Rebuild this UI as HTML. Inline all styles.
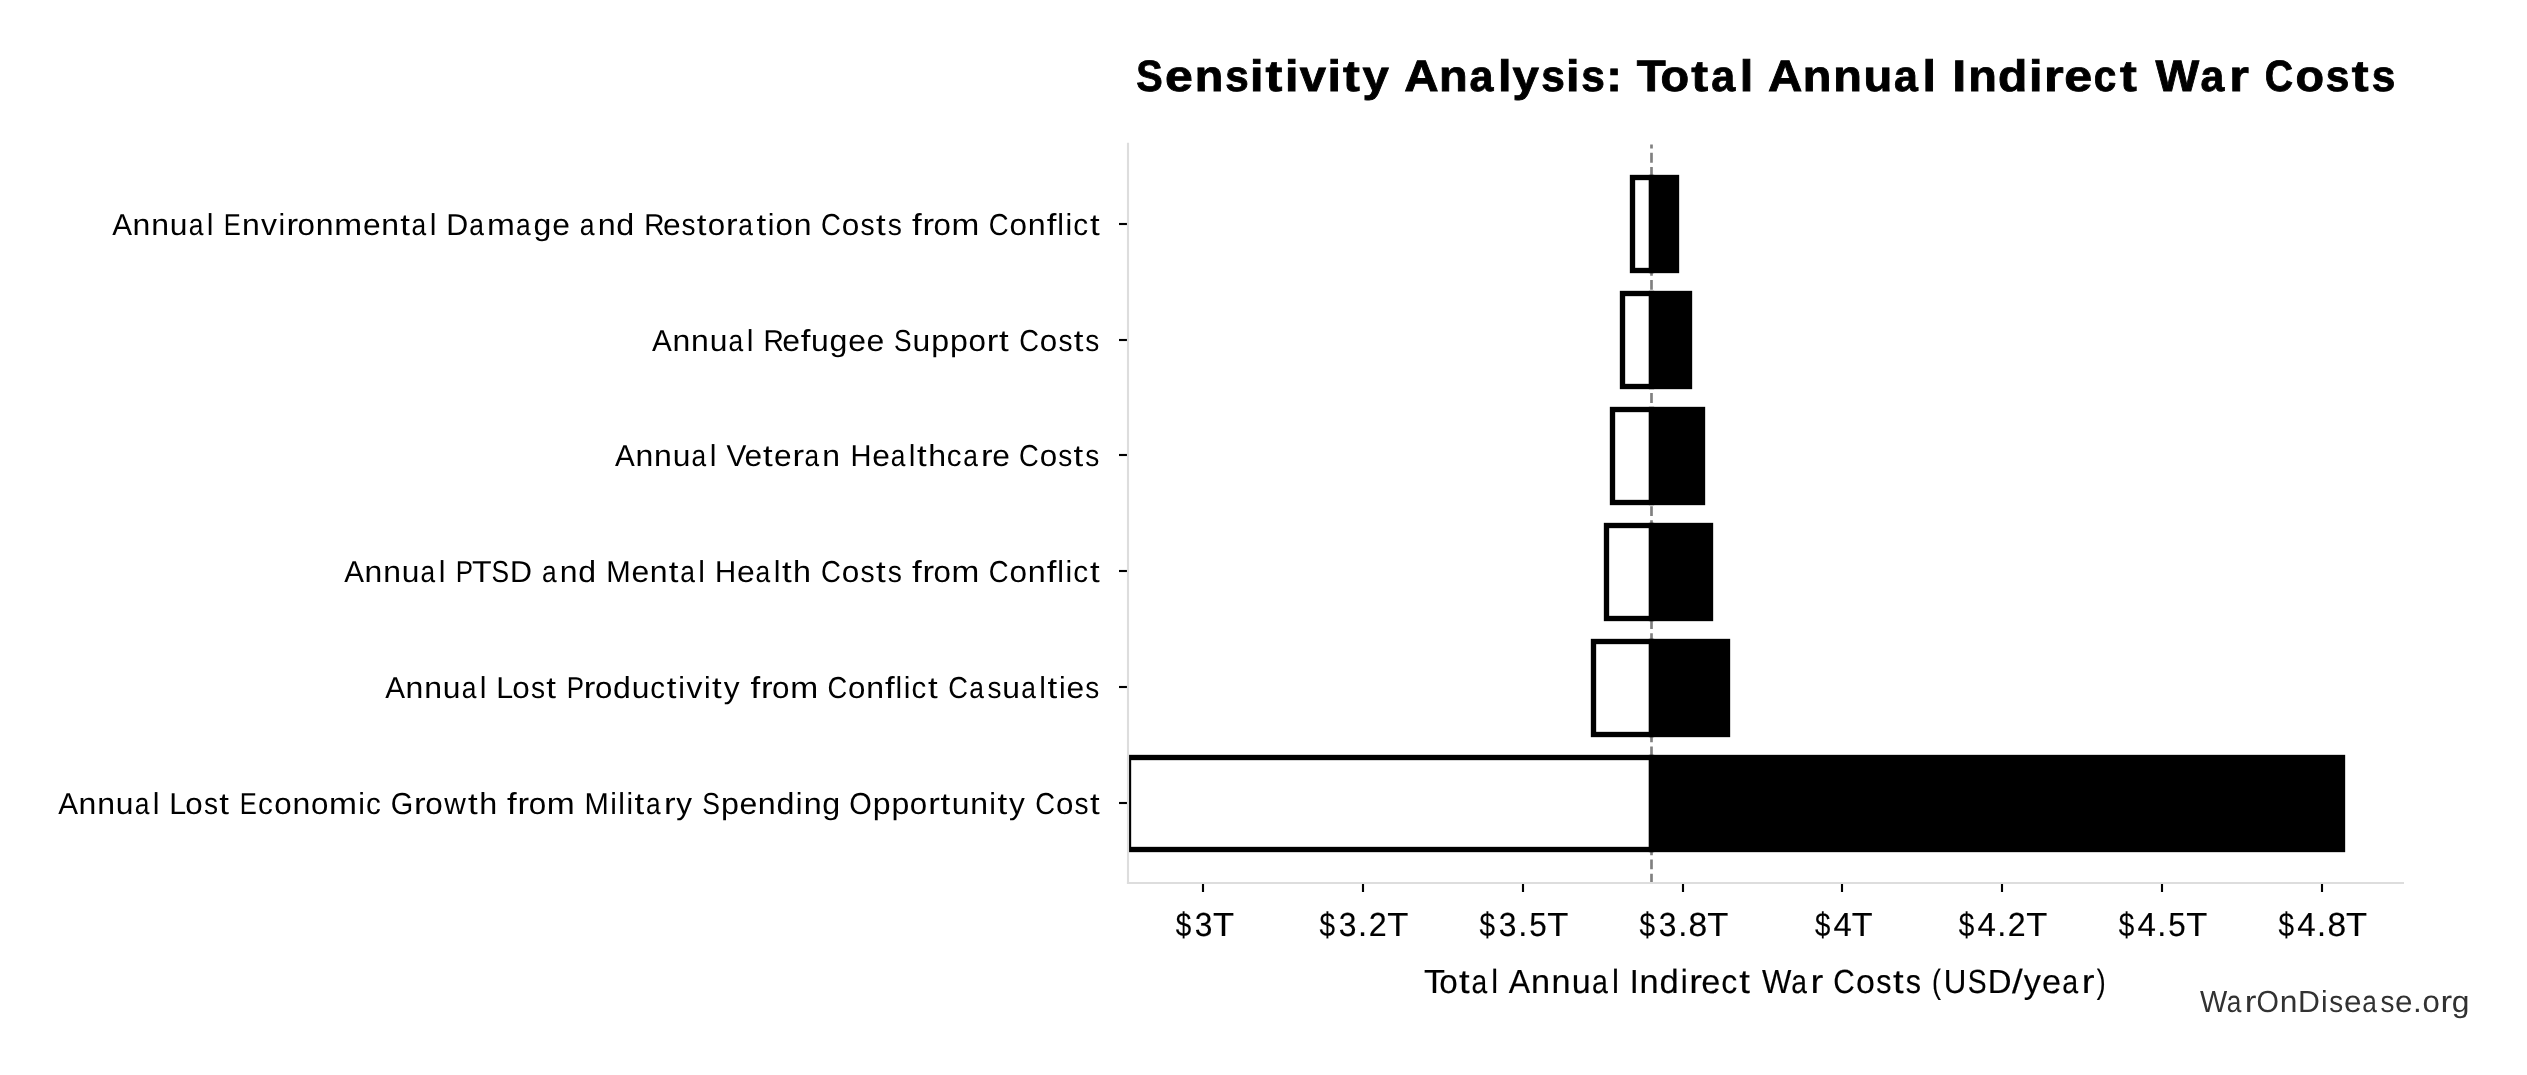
<!DOCTYPE html>
<html>
<head>
<meta charset="utf-8">
<style>
html,body{margin:0;padding:0;background:#fff;width:2527px;height:1075px;overflow:hidden;}
body>svg{display:block;filter:grayscale(1);}
text{font-family:"Liberation Sans",sans-serif;text-rendering:geometricPrecision;}
</style>
</head>
<body>
<svg width="2527" height="1075" viewBox="0 0 2527 1075">
<rect x="0" y="0" width="2527" height="1075" fill="#fff"/>
<!-- title -->
<g font-size="43.9" font-weight="bold" fill="#000" stroke="#000" stroke-width="0.85">
<text y="90.80"><tspan x="1136.24" textLength="26.440" lengthAdjust="spacingAndGlyphs">S</tspan><tspan x="1165.02" textLength="27.860" lengthAdjust="spacingAndGlyphs">e</tspan><tspan x="1194.67" textLength="28.551" lengthAdjust="spacingAndGlyphs">n</tspan><tspan x="1225.22" textLength="23.512" lengthAdjust="spacingAndGlyphs">s</tspan><tspan x="1250.08" textLength="13.449" lengthAdjust="spacingAndGlyphs">i</tspan><tspan x="1265.59" textLength="16.812" lengthAdjust="spacingAndGlyphs">t</tspan><tspan x="1285.10" textLength="13.449" lengthAdjust="spacingAndGlyphs">i</tspan><tspan x="1299.89" textLength="26.213" lengthAdjust="spacingAndGlyphs">v</tspan><tspan x="1327.53" textLength="13.449" lengthAdjust="spacingAndGlyphs">i</tspan><tspan x="1343.04" textLength="16.812" lengthAdjust="spacingAndGlyphs">t</tspan><tspan x="1362.45" textLength="26.318" lengthAdjust="spacingAndGlyphs">y</tspan> <tspan x="1404.24" textLength="34.365" lengthAdjust="spacingAndGlyphs">A</tspan><tspan x="1438.96" textLength="28.667" lengthAdjust="spacingAndGlyphs">n</tspan><tspan x="1469.45" textLength="23.904" lengthAdjust="spacingAndGlyphs">a</tspan><tspan x="1497.99" textLength="13.509" lengthAdjust="spacingAndGlyphs">l</tspan><tspan x="1512.58" textLength="26.425" lengthAdjust="spacingAndGlyphs">y</tspan><tspan x="1541.13" textLength="23.608" lengthAdjust="spacingAndGlyphs">s</tspan><tspan x="1566.08" textLength="13.509" lengthAdjust="spacingAndGlyphs">i</tspan><tspan x="1581.30" textLength="23.608" lengthAdjust="spacingAndGlyphs">s</tspan><tspan x="1606.33" textLength="15.624" lengthAdjust="spacingAndGlyphs">:</tspan> <tspan x="1636.75" textLength="28.953" lengthAdjust="spacingAndGlyphs">T</tspan><tspan x="1660.59" textLength="28.616" lengthAdjust="spacingAndGlyphs">o</tspan><tspan x="1691.24" textLength="16.812" lengthAdjust="spacingAndGlyphs">t</tspan><tspan x="1711.17" textLength="23.951" lengthAdjust="spacingAndGlyphs">a</tspan><tspan x="1739.76" textLength="13.538" lengthAdjust="spacingAndGlyphs">l</tspan> <tspan x="1768.14" textLength="34.304" lengthAdjust="spacingAndGlyphs">A</tspan><tspan x="1802.80" textLength="28.615" lengthAdjust="spacingAndGlyphs">n</tspan><tspan x="1833.24" textLength="28.615" lengthAdjust="spacingAndGlyphs">n</tspan><tspan x="1863.52" textLength="28.764" lengthAdjust="spacingAndGlyphs">u</tspan><tspan x="1894.11" textLength="23.860" lengthAdjust="spacingAndGlyphs">a</tspan><tspan x="1922.61" textLength="13.482" lengthAdjust="spacingAndGlyphs">l</tspan> <tspan x="1952.23" textLength="13.990" lengthAdjust="spacingAndGlyphs">I</tspan><tspan x="1968.24" textLength="28.620" lengthAdjust="spacingAndGlyphs">n</tspan><tspan x="1998.05" textLength="29.307" lengthAdjust="spacingAndGlyphs">d</tspan><tspan x="2028.94" textLength="13.485" lengthAdjust="spacingAndGlyphs">i</tspan><tspan x="2044.14" textLength="19.647" lengthAdjust="spacingAndGlyphs">r</tspan><tspan x="2064.31" textLength="27.928" lengthAdjust="spacingAndGlyphs">e</tspan><tspan x="2093.70" textLength="22.563" lengthAdjust="spacingAndGlyphs">c</tspan><tspan x="2119.94" textLength="16.812" lengthAdjust="spacingAndGlyphs">t</tspan> <tspan x="2155.51" textLength="43.678" lengthAdjust="spacingAndGlyphs">W</tspan><tspan x="2200.40" textLength="23.747" lengthAdjust="spacingAndGlyphs">a</tspan><tspan x="2229.25" textLength="19.647" lengthAdjust="spacingAndGlyphs">r</tspan> <tspan x="2264.76" textLength="28.334" lengthAdjust="spacingAndGlyphs">C</tspan><tspan x="2295.62" textLength="28.544" lengthAdjust="spacingAndGlyphs">o</tspan><tspan x="2325.79" textLength="23.595" lengthAdjust="spacingAndGlyphs">s</tspan><tspan x="2351.65" textLength="16.812" lengthAdjust="spacingAndGlyphs">t</tspan><tspan x="2371.73" textLength="23.595" lengthAdjust="spacingAndGlyphs">s</tspan></text>
</g>
<!-- dashed reference line -->
<line x1="1651.5" y1="883.5" x2="1651.5" y2="144.5" stroke="#808080" stroke-width="2.667" stroke-dasharray="9.867 4.267"/>
<!-- bars -->
<g stroke="#000" stroke-width="5.333">
<rect x="1632.50" y="177.50" width="19.00" height="93.00" fill="#fff"/>
<rect x="1651.50" y="177.50" width="25.00" height="93.00" fill="#000"/>
<rect x="1622.50" y="293.50" width="29.00" height="93.00" fill="#fff"/>
<rect x="1651.50" y="293.50" width="38.00" height="93.00" fill="#000"/>
<rect x="1612.50" y="409.50" width="39.00" height="93.00" fill="#fff"/>
<rect x="1651.50" y="409.50" width="51.00" height="93.00" fill="#000"/>
<rect x="1606.50" y="525.50" width="45.00" height="93.00" fill="#fff"/>
<rect x="1651.50" y="525.50" width="59.00" height="93.00" fill="#000"/>
<rect x="1593.50" y="641.50" width="58.00" height="93.00" fill="#fff"/>
<rect x="1651.50" y="641.50" width="76.00" height="93.00" fill="#000"/>
</g>
<svg x="1128" y="0" width="1399" height="1075" overflow="hidden">
<g stroke="#000" stroke-width="5.333">
<rect x="0.50" y="757.50" width="523.00" height="92.00" fill="#fff"/><rect x="523.50" y="757.50" width="691.00" height="92.00" fill="#000"/>
</g>
</svg>
<!-- y ticks -->
<g stroke="#000" stroke-width="2.133">
<line x1="1119" y1="224.00" x2="1128" y2="224.00"/>
<line x1="1119" y1="340.00" x2="1128" y2="340.00"/>
<line x1="1119" y1="455.00" x2="1128" y2="455.00"/>
<line x1="1119" y1="571.00" x2="1128" y2="571.00"/>
<line x1="1119" y1="687.00" x2="1128" y2="687.00"/>
<line x1="1119" y1="803.00" x2="1128" y2="803.00"/>
</g>
<!-- x ticks -->
<g stroke="#000" stroke-width="2.133">
<line x1="1203.00" y1="883" x2="1203.00" y2="892"/>
<line x1="1363.00" y1="883" x2="1363.00" y2="892"/>
<line x1="1523.00" y1="883" x2="1523.00" y2="892"/>
<line x1="1683.00" y1="883" x2="1683.00" y2="892"/>
<line x1="1842.00" y1="883" x2="1842.00" y2="892"/>
<line x1="2002.00" y1="883" x2="2002.00" y2="892"/>
<line x1="2162.00" y1="883" x2="2162.00" y2="892"/>
<line x1="2322.00" y1="883" x2="2322.00" y2="892"/>
</g>
<!-- spines -->
<line x1="1128" y1="142.63" x2="1128" y2="884.07" stroke="#dddddd" stroke-width="2.133"/>
<line x1="1126.93" y1="883" x2="2404" y2="883" stroke="#dddddd" stroke-width="2.133"/>
<!-- y labels -->
<g font-size="30.3" fill="#000">
<text y="234.69"><tspan x="112.13" textLength="19.800" lengthAdjust="spacingAndGlyphs">A</tspan><tspan x="132.57" textLength="17.808" lengthAdjust="spacingAndGlyphs">n</tspan><tspan x="151.23" textLength="17.808" lengthAdjust="spacingAndGlyphs">n</tspan><tspan x="169.85" textLength="17.704" lengthAdjust="spacingAndGlyphs">u</tspan><tspan x="188.71" textLength="14.681" lengthAdjust="spacingAndGlyphs">a</tspan><tspan x="206.84" textLength="6.679" lengthAdjust="spacingAndGlyphs">l</tspan> <tspan x="223.80" textLength="17.016" lengthAdjust="spacingAndGlyphs">E</tspan><tspan x="242.09" textLength="17.806" lengthAdjust="spacingAndGlyphs">n</tspan><tspan x="260.99" textLength="15.991" lengthAdjust="spacingAndGlyphs">v</tspan><tspan x="278.42" textLength="6.678" lengthAdjust="spacingAndGlyphs">i</tspan><tspan x="286.49" textLength="11.604" lengthAdjust="spacingAndGlyphs">r</tspan><tspan x="297.64" textLength="17.396" lengthAdjust="spacingAndGlyphs">o</tspan><tspan x="315.82" textLength="17.806" lengthAdjust="spacingAndGlyphs">n</tspan><tspan x="334.38" textLength="27.872" lengthAdjust="spacingAndGlyphs">m</tspan><tspan x="362.96" textLength="17.636" lengthAdjust="spacingAndGlyphs">e</tspan><tspan x="381.25" textLength="17.806" lengthAdjust="spacingAndGlyphs">n</tspan><tspan x="400.23" textLength="9.681" lengthAdjust="spacingAndGlyphs">t</tspan><tspan x="411.61" textLength="14.679" lengthAdjust="spacingAndGlyphs">a</tspan><tspan x="429.74" textLength="6.678" lengthAdjust="spacingAndGlyphs">l</tspan> <tspan x="446.29" textLength="21.975" lengthAdjust="spacingAndGlyphs">D</tspan><tspan x="469.21" textLength="14.674" lengthAdjust="spacingAndGlyphs">a</tspan><tspan x="486.98" textLength="27.861" lengthAdjust="spacingAndGlyphs">m</tspan><tspan x="515.90" textLength="14.674" lengthAdjust="spacingAndGlyphs">a</tspan><tspan x="533.56" textLength="17.795" lengthAdjust="spacingAndGlyphs">g</tspan><tspan x="552.25" textLength="17.630" lengthAdjust="spacingAndGlyphs">e</tspan> <tspan x="579.67" textLength="14.803" lengthAdjust="spacingAndGlyphs">a</tspan><tspan x="597.69" textLength="17.956" lengthAdjust="spacingAndGlyphs">n</tspan><tspan x="616.30" textLength="17.952" lengthAdjust="spacingAndGlyphs">d</tspan> <tspan x="644.19" textLength="20.247" lengthAdjust="spacingAndGlyphs">R</tspan><tspan x="662.94" textLength="17.604" lengthAdjust="spacingAndGlyphs">e</tspan><tspan x="681.59" textLength="14.002" lengthAdjust="spacingAndGlyphs">s</tspan><tspan x="696.83" textLength="9.681" lengthAdjust="spacingAndGlyphs">t</tspan><tspan x="707.86" textLength="17.363" lengthAdjust="spacingAndGlyphs">o</tspan><tspan x="726.14" textLength="11.604" lengthAdjust="spacingAndGlyphs">r</tspan><tspan x="738.25" textLength="14.652" lengthAdjust="spacingAndGlyphs">a</tspan><tspan x="756.40" textLength="9.681" lengthAdjust="spacingAndGlyphs">t</tspan><tspan x="767.86" textLength="6.666" lengthAdjust="spacingAndGlyphs">i</tspan><tspan x="775.60" textLength="17.363" lengthAdjust="spacingAndGlyphs">o</tspan><tspan x="793.74" textLength="17.773" lengthAdjust="spacingAndGlyphs">n</tspan> <tspan x="821.12" textLength="19.885" lengthAdjust="spacingAndGlyphs">C</tspan><tspan x="841.87" textLength="17.528" lengthAdjust="spacingAndGlyphs">o</tspan><tspan x="860.58" textLength="14.135" lengthAdjust="spacingAndGlyphs">s</tspan><tspan x="876.00" textLength="9.681" lengthAdjust="spacingAndGlyphs">t</tspan><tspan x="887.65" textLength="14.135" lengthAdjust="spacingAndGlyphs">s</tspan> <tspan x="912.08" textLength="9.681" lengthAdjust="spacingAndGlyphs">f</tspan><tspan x="922.41" textLength="11.604" lengthAdjust="spacingAndGlyphs">r</tspan><tspan x="933.55" textLength="17.351" lengthAdjust="spacingAndGlyphs">o</tspan><tspan x="951.59" textLength="27.799" lengthAdjust="spacingAndGlyphs">m</tspan> <tspan x="988.73" textLength="19.851" lengthAdjust="spacingAndGlyphs">C</tspan><tspan x="1009.44" textLength="17.498" lengthAdjust="spacingAndGlyphs">o</tspan><tspan x="1027.72" textLength="17.911" lengthAdjust="spacingAndGlyphs">n</tspan><tspan x="1046.67" textLength="9.681" lengthAdjust="spacingAndGlyphs">f</tspan><tspan x="1057.17" textLength="6.718" lengthAdjust="spacingAndGlyphs">l</tspan><tspan x="1065.39" textLength="6.718" lengthAdjust="spacingAndGlyphs">i</tspan><tspan x="1073.26" textLength="14.869" lengthAdjust="spacingAndGlyphs">c</tspan><tspan x="1090.00" textLength="9.681" lengthAdjust="spacingAndGlyphs">t</tspan></text>
<text y="350.57"><tspan x="652.03" textLength="19.800" lengthAdjust="spacingAndGlyphs">A</tspan><tspan x="672.47" textLength="17.808" lengthAdjust="spacingAndGlyphs">n</tspan><tspan x="691.13" textLength="17.808" lengthAdjust="spacingAndGlyphs">n</tspan><tspan x="709.75" textLength="17.704" lengthAdjust="spacingAndGlyphs">u</tspan><tspan x="728.61" textLength="14.681" lengthAdjust="spacingAndGlyphs">a</tspan><tspan x="746.74" textLength="6.679" lengthAdjust="spacingAndGlyphs">l</tspan> <tspan x="763.48" textLength="20.347" lengthAdjust="spacingAndGlyphs">R</tspan><tspan x="782.32" textLength="17.691" lengthAdjust="spacingAndGlyphs">e</tspan><tspan x="800.85" textLength="9.681" lengthAdjust="spacingAndGlyphs">f</tspan><tspan x="811.04" textLength="17.755" lengthAdjust="spacingAndGlyphs">u</tspan><tspan x="829.58" textLength="17.856" lengthAdjust="spacingAndGlyphs">g</tspan><tspan x="848.33" textLength="17.691" lengthAdjust="spacingAndGlyphs">e</tspan><tspan x="866.50" textLength="17.691" lengthAdjust="spacingAndGlyphs">e</tspan> <tspan x="894.01" textLength="17.610" lengthAdjust="spacingAndGlyphs">S</tspan><tspan x="912.47" textLength="17.731" lengthAdjust="spacingAndGlyphs">u</tspan><tspan x="931.27" textLength="17.870" lengthAdjust="spacingAndGlyphs">p</tspan><tspan x="949.98" textLength="17.870" lengthAdjust="spacingAndGlyphs">p</tspan><tspan x="968.45" textLength="17.426" lengthAdjust="spacingAndGlyphs">o</tspan><tspan x="986.82" textLength="11.604" lengthAdjust="spacingAndGlyphs">r</tspan><tspan x="999.12" textLength="9.681" lengthAdjust="spacingAndGlyphs">t</tspan> <tspan x="1019.23" textLength="19.758" lengthAdjust="spacingAndGlyphs">C</tspan><tspan x="1039.84" textLength="17.416" lengthAdjust="spacingAndGlyphs">o</tspan><tspan x="1058.43" textLength="14.044" lengthAdjust="spacingAndGlyphs">s</tspan><tspan x="1073.73" textLength="9.681" lengthAdjust="spacingAndGlyphs">t</tspan><tspan x="1085.34" textLength="14.044" lengthAdjust="spacingAndGlyphs">s</tspan></text>
<text y="466.45"><tspan x="615.03" textLength="19.780" lengthAdjust="spacingAndGlyphs">A</tspan><tspan x="635.45" textLength="17.790" lengthAdjust="spacingAndGlyphs">n</tspan><tspan x="654.09" textLength="17.790" lengthAdjust="spacingAndGlyphs">n</tspan><tspan x="672.70" textLength="17.686" lengthAdjust="spacingAndGlyphs">u</tspan><tspan x="691.53" textLength="14.666" lengthAdjust="spacingAndGlyphs">a</tspan><tspan x="709.64" textLength="6.673" lengthAdjust="spacingAndGlyphs">l</tspan> <tspan x="726.55" textLength="19.877" lengthAdjust="spacingAndGlyphs">V</tspan><tspan x="744.56" textLength="17.574" lengthAdjust="spacingAndGlyphs">e</tspan><tspan x="763.10" textLength="9.681" lengthAdjust="spacingAndGlyphs">t</tspan><tspan x="774.11" textLength="17.574" lengthAdjust="spacingAndGlyphs">e</tspan><tspan x="792.46" textLength="11.604" lengthAdjust="spacingAndGlyphs">r</tspan><tspan x="804.56" textLength="14.627" lengthAdjust="spacingAndGlyphs">a</tspan><tspan x="822.37" textLength="17.742" lengthAdjust="spacingAndGlyphs">n</tspan> <tspan x="850.50" textLength="21.024" lengthAdjust="spacingAndGlyphs">H</tspan><tspan x="872.37" textLength="17.581" lengthAdjust="spacingAndGlyphs">e</tspan><tspan x="890.77" textLength="14.632" lengthAdjust="spacingAndGlyphs">a</tspan><tspan x="908.84" textLength="6.657" lengthAdjust="spacingAndGlyphs">l</tspan><tspan x="917.05" textLength="9.681" lengthAdjust="spacingAndGlyphs">t</tspan><tspan x="928.15" textLength="17.855" lengthAdjust="spacingAndGlyphs">h</tspan><tspan x="946.74" textLength="14.735" lengthAdjust="spacingAndGlyphs">c</tspan><tspan x="963.13" textLength="14.632" lengthAdjust="spacingAndGlyphs">a</tspan><tspan x="981.08" textLength="11.604" lengthAdjust="spacingAndGlyphs">r</tspan><tspan x="992.20" textLength="17.581" lengthAdjust="spacingAndGlyphs">e</tspan> <tspan x="1019.03" textLength="19.783" lengthAdjust="spacingAndGlyphs">C</tspan><tspan x="1039.67" textLength="17.439" lengthAdjust="spacingAndGlyphs">o</tspan><tspan x="1058.28" textLength="14.062" lengthAdjust="spacingAndGlyphs">s</tspan><tspan x="1073.60" textLength="9.681" lengthAdjust="spacingAndGlyphs">t</tspan><tspan x="1085.22" textLength="14.062" lengthAdjust="spacingAndGlyphs">s</tspan></text>
<text y="582.33"><tspan x="344.23" textLength="19.740" lengthAdjust="spacingAndGlyphs">A</tspan><tspan x="364.61" textLength="17.755" lengthAdjust="spacingAndGlyphs">n</tspan><tspan x="383.21" textLength="17.755" lengthAdjust="spacingAndGlyphs">n</tspan><tspan x="401.78" textLength="17.650" lengthAdjust="spacingAndGlyphs">u</tspan><tspan x="420.58" textLength="14.637" lengthAdjust="spacingAndGlyphs">a</tspan><tspan x="438.65" textLength="6.659" lengthAdjust="spacingAndGlyphs">l</tspan> <tspan x="455.86" textLength="17.270" lengthAdjust="spacingAndGlyphs">P</tspan><tspan x="472.03" textLength="19.649" lengthAdjust="spacingAndGlyphs">T</tspan><tspan x="491.56" textLength="17.592" lengthAdjust="spacingAndGlyphs">S</tspan><tspan x="509.94" textLength="21.999" lengthAdjust="spacingAndGlyphs">D</tspan> <tspan x="541.88" textLength="14.659" lengthAdjust="spacingAndGlyphs">a</tspan><tspan x="559.73" textLength="17.782" lengthAdjust="spacingAndGlyphs">n</tspan><tspan x="578.16" textLength="17.777" lengthAdjust="spacingAndGlyphs">d</tspan> <tspan x="606.18" textLength="24.464" lengthAdjust="spacingAndGlyphs">M</tspan><tspan x="631.43" textLength="17.667" lengthAdjust="spacingAndGlyphs">e</tspan><tspan x="649.76" textLength="17.836" lengthAdjust="spacingAndGlyphs">n</tspan><tspan x="668.78" textLength="9.681" lengthAdjust="spacingAndGlyphs">t</tspan><tspan x="680.17" textLength="14.704" lengthAdjust="spacingAndGlyphs">a</tspan><tspan x="698.33" textLength="6.690" lengthAdjust="spacingAndGlyphs">l</tspan> <tspan x="714.98" textLength="21.144" lengthAdjust="spacingAndGlyphs">H</tspan><tspan x="736.98" textLength="17.681" lengthAdjust="spacingAndGlyphs">e</tspan><tspan x="755.49" textLength="14.716" lengthAdjust="spacingAndGlyphs">a</tspan><tspan x="773.66" textLength="6.695" lengthAdjust="spacingAndGlyphs">l</tspan><tspan x="781.94" textLength="9.681" lengthAdjust="spacingAndGlyphs">t</tspan><tspan x="793.08" textLength="17.957" lengthAdjust="spacingAndGlyphs">h</tspan> <tspan x="821.12" textLength="19.885" lengthAdjust="spacingAndGlyphs">C</tspan><tspan x="841.87" textLength="17.528" lengthAdjust="spacingAndGlyphs">o</tspan><tspan x="860.58" textLength="14.135" lengthAdjust="spacingAndGlyphs">s</tspan><tspan x="876.00" textLength="9.681" lengthAdjust="spacingAndGlyphs">t</tspan><tspan x="887.65" textLength="14.135" lengthAdjust="spacingAndGlyphs">s</tspan> <tspan x="912.08" textLength="9.681" lengthAdjust="spacingAndGlyphs">f</tspan><tspan x="922.41" textLength="11.604" lengthAdjust="spacingAndGlyphs">r</tspan><tspan x="933.55" textLength="17.351" lengthAdjust="spacingAndGlyphs">o</tspan><tspan x="951.59" textLength="27.799" lengthAdjust="spacingAndGlyphs">m</tspan> <tspan x="988.73" textLength="19.851" lengthAdjust="spacingAndGlyphs">C</tspan><tspan x="1009.44" textLength="17.498" lengthAdjust="spacingAndGlyphs">o</tspan><tspan x="1027.72" textLength="17.911" lengthAdjust="spacingAndGlyphs">n</tspan><tspan x="1046.67" textLength="9.681" lengthAdjust="spacingAndGlyphs">f</tspan><tspan x="1057.17" textLength="6.718" lengthAdjust="spacingAndGlyphs">l</tspan><tspan x="1065.39" textLength="6.718" lengthAdjust="spacingAndGlyphs">i</tspan><tspan x="1073.26" textLength="14.869" lengthAdjust="spacingAndGlyphs">c</tspan><tspan x="1090.00" textLength="9.681" lengthAdjust="spacingAndGlyphs">t</tspan></text>
<text y="698.21"><tspan x="385.13" textLength="19.800" lengthAdjust="spacingAndGlyphs">A</tspan><tspan x="405.57" textLength="17.808" lengthAdjust="spacingAndGlyphs">n</tspan><tspan x="424.23" textLength="17.808" lengthAdjust="spacingAndGlyphs">n</tspan><tspan x="442.85" textLength="17.704" lengthAdjust="spacingAndGlyphs">u</tspan><tspan x="461.71" textLength="14.681" lengthAdjust="spacingAndGlyphs">a</tspan><tspan x="479.84" textLength="6.679" lengthAdjust="spacingAndGlyphs">l</tspan> <tspan x="496.39" textLength="16.910" lengthAdjust="spacingAndGlyphs">L</tspan><tspan x="512.25" textLength="17.448" lengthAdjust="spacingAndGlyphs">o</tspan><tspan x="530.88" textLength="14.069" lengthAdjust="spacingAndGlyphs">s</tspan><tspan x="546.21" textLength="9.681" lengthAdjust="spacingAndGlyphs">t</tspan> <tspan x="566.77" textLength="17.225" lengthAdjust="spacingAndGlyphs">P</tspan><tspan x="583.85" textLength="11.604" lengthAdjust="spacingAndGlyphs">r</tspan><tspan x="594.99" textLength="17.363" lengthAdjust="spacingAndGlyphs">o</tspan><tspan x="612.94" textLength="17.768" lengthAdjust="spacingAndGlyphs">d</tspan><tspan x="631.75" textLength="17.668" lengthAdjust="spacingAndGlyphs">u</tspan><tspan x="650.31" textLength="14.754" lengthAdjust="spacingAndGlyphs">c</tspan><tspan x="666.87" textLength="9.681" lengthAdjust="spacingAndGlyphs">t</tspan><tspan x="678.33" textLength="6.666" lengthAdjust="spacingAndGlyphs">i</tspan><tspan x="686.48" textLength="15.962" lengthAdjust="spacingAndGlyphs">v</tspan><tspan x="703.88" textLength="6.666" lengthAdjust="spacingAndGlyphs">i</tspan><tspan x="712.10" textLength="9.681" lengthAdjust="spacingAndGlyphs">t</tspan><tspan x="723.68" textLength="15.800" lengthAdjust="spacingAndGlyphs">y</tspan> <tspan x="750.51" textLength="9.681" lengthAdjust="spacingAndGlyphs">f</tspan><tspan x="760.92" textLength="11.604" lengthAdjust="spacingAndGlyphs">r</tspan><tspan x="772.09" textLength="17.457" lengthAdjust="spacingAndGlyphs">o</tspan><tspan x="790.23" textLength="27.970" lengthAdjust="spacingAndGlyphs">m</tspan> <tspan x="827.53" textLength="19.724" lengthAdjust="spacingAndGlyphs">C</tspan><tspan x="848.11" textLength="17.387" lengthAdjust="spacingAndGlyphs">o</tspan><tspan x="866.28" textLength="17.797" lengthAdjust="spacingAndGlyphs">n</tspan><tspan x="885.08" textLength="9.681" lengthAdjust="spacingAndGlyphs">f</tspan><tspan x="895.54" textLength="6.675" lengthAdjust="spacingAndGlyphs">l</tspan><tspan x="903.71" textLength="6.675" lengthAdjust="spacingAndGlyphs">i</tspan><tspan x="911.53" textLength="14.775" lengthAdjust="spacingAndGlyphs">c</tspan><tspan x="928.13" textLength="9.681" lengthAdjust="spacingAndGlyphs">t</tspan> <tspan x="948.34" textLength="19.696" lengthAdjust="spacingAndGlyphs">C</tspan><tspan x="969.22" textLength="14.650" lengthAdjust="spacingAndGlyphs">a</tspan><tspan x="987.44" textLength="14.000" lengthAdjust="spacingAndGlyphs">s</tspan><tspan x="1002.33" textLength="17.666" lengthAdjust="spacingAndGlyphs">u</tspan><tspan x="1021.14" textLength="14.650" lengthAdjust="spacingAndGlyphs">a</tspan><tspan x="1039.24" textLength="6.665" lengthAdjust="spacingAndGlyphs">l</tspan><tspan x="1047.46" textLength="9.681" lengthAdjust="spacingAndGlyphs">t</tspan><tspan x="1058.92" textLength="6.665" lengthAdjust="spacingAndGlyphs">i</tspan><tspan x="1066.63" textLength="17.602" lengthAdjust="spacingAndGlyphs">e</tspan><tspan x="1085.28" textLength="14.000" lengthAdjust="spacingAndGlyphs">s</tspan></text>
<text y="814.09"><tspan x="58.13" textLength="19.800" lengthAdjust="spacingAndGlyphs">A</tspan><tspan x="78.57" textLength="17.808" lengthAdjust="spacingAndGlyphs">n</tspan><tspan x="97.23" textLength="17.808" lengthAdjust="spacingAndGlyphs">n</tspan><tspan x="115.85" textLength="17.704" lengthAdjust="spacingAndGlyphs">u</tspan><tspan x="134.71" textLength="14.681" lengthAdjust="spacingAndGlyphs">a</tspan><tspan x="152.84" textLength="6.679" lengthAdjust="spacingAndGlyphs">l</tspan> <tspan x="169.39" textLength="16.910" lengthAdjust="spacingAndGlyphs">L</tspan><tspan x="185.25" textLength="17.448" lengthAdjust="spacingAndGlyphs">o</tspan><tspan x="203.88" textLength="14.069" lengthAdjust="spacingAndGlyphs">s</tspan><tspan x="219.21" textLength="9.681" lengthAdjust="spacingAndGlyphs">t</tspan> <tspan x="239.79" textLength="17.058" lengthAdjust="spacingAndGlyphs">E</tspan><tspan x="258.03" textLength="14.819" lengthAdjust="spacingAndGlyphs">c</tspan><tspan x="274.18" textLength="17.439" lengthAdjust="spacingAndGlyphs">o</tspan><tspan x="292.40" textLength="17.850" lengthAdjust="spacingAndGlyphs">n</tspan><tspan x="310.93" textLength="17.439" lengthAdjust="spacingAndGlyphs">o</tspan><tspan x="329.06" textLength="27.941" lengthAdjust="spacingAndGlyphs">m</tspan><tspan x="358.15" textLength="6.695" lengthAdjust="spacingAndGlyphs">i</tspan><tspan x="366.00" textLength="14.819" lengthAdjust="spacingAndGlyphs">c</tspan> <tspan x="390.65" textLength="22.498" lengthAdjust="spacingAndGlyphs">G</tspan><tspan x="414.03" textLength="11.604" lengthAdjust="spacingAndGlyphs">r</tspan><tspan x="425.20" textLength="17.475" lengthAdjust="spacingAndGlyphs">o</tspan><tspan x="444.24" textLength="21.619" lengthAdjust="spacingAndGlyphs">w</tspan><tspan x="468.00" textLength="9.681" lengthAdjust="spacingAndGlyphs">t</tspan><tspan x="479.15" textLength="17.994" lengthAdjust="spacingAndGlyphs">h</tspan> <tspan x="507.11" textLength="9.681" lengthAdjust="spacingAndGlyphs">f</tspan><tspan x="517.52" textLength="11.604" lengthAdjust="spacingAndGlyphs">r</tspan><tspan x="528.69" textLength="17.457" lengthAdjust="spacingAndGlyphs">o</tspan><tspan x="546.83" textLength="27.970" lengthAdjust="spacingAndGlyphs">m</tspan> <tspan x="584.59" textLength="24.325" lengthAdjust="spacingAndGlyphs">M</tspan><tspan x="610.15" textLength="6.652" lengthAdjust="spacingAndGlyphs">i</tspan><tspan x="618.29" textLength="6.652" lengthAdjust="spacingAndGlyphs">l</tspan><tspan x="626.44" textLength="6.652" lengthAdjust="spacingAndGlyphs">i</tspan><tspan x="634.63" textLength="9.681" lengthAdjust="spacingAndGlyphs">t</tspan><tspan x="645.98" textLength="14.620" lengthAdjust="spacingAndGlyphs">a</tspan><tspan x="663.91" textLength="11.604" lengthAdjust="spacingAndGlyphs">r</tspan><tspan x="676.21" textLength="15.767" lengthAdjust="spacingAndGlyphs">y</tspan> <tspan x="702.31" textLength="17.685" lengthAdjust="spacingAndGlyphs">S</tspan><tspan x="720.95" textLength="17.947" lengthAdjust="spacingAndGlyphs">p</tspan><tspan x="739.48" textLength="17.742" lengthAdjust="spacingAndGlyphs">e</tspan><tspan x="757.89" textLength="17.913" lengthAdjust="spacingAndGlyphs">n</tspan><tspan x="776.45" textLength="17.908" lengthAdjust="spacingAndGlyphs">d</tspan><tspan x="795.71" textLength="6.718" lengthAdjust="spacingAndGlyphs">i</tspan><tspan x="803.68" textLength="17.913" lengthAdjust="spacingAndGlyphs">n</tspan><tspan x="822.24" textLength="17.908" lengthAdjust="spacingAndGlyphs">g</tspan> <tspan x="849.32" textLength="22.543" lengthAdjust="spacingAndGlyphs">O</tspan><tspan x="872.77" textLength="17.832" lengthAdjust="spacingAndGlyphs">p</tspan><tspan x="891.45" textLength="17.832" lengthAdjust="spacingAndGlyphs">p</tspan><tspan x="909.88" textLength="17.388" lengthAdjust="spacingAndGlyphs">o</tspan><tspan x="928.20" textLength="11.604" lengthAdjust="spacingAndGlyphs">r</tspan><tspan x="940.47" textLength="9.681" lengthAdjust="spacingAndGlyphs">t</tspan><tspan x="951.65" textLength="17.693" lengthAdjust="spacingAndGlyphs">u</tspan><tspan x="970.33" textLength="17.798" lengthAdjust="spacingAndGlyphs">n</tspan><tspan x="989.23" textLength="6.675" lengthAdjust="spacingAndGlyphs">i</tspan><tspan x="997.47" textLength="9.681" lengthAdjust="spacingAndGlyphs">t</tspan><tspan x="1009.06" textLength="15.823" lengthAdjust="spacingAndGlyphs">y</tspan> <tspan x="1035.33" textLength="19.786" lengthAdjust="spacingAndGlyphs">C</tspan><tspan x="1055.97" textLength="17.441" lengthAdjust="spacingAndGlyphs">o</tspan><tspan x="1074.59" textLength="14.064" lengthAdjust="spacingAndGlyphs">s</tspan><tspan x="1089.91" textLength="9.681" lengthAdjust="spacingAndGlyphs">t</tspan></text>
</g>
<!-- x tick labels -->
<g font-size="33.4" fill="#000" stroke="#000" stroke-width="0.15">
<text y="936.20"><tspan x="1175.70" textLength="15.496" lengthAdjust="spacingAndGlyphs">$</tspan><tspan x="1194.85" textLength="17.654" lengthAdjust="spacingAndGlyphs">3</tspan><tspan x="1212.96" textLength="21.072" lengthAdjust="spacingAndGlyphs">T</tspan></text>
<text y="936.20"><tspan x="1319.50" textLength="15.538" lengthAdjust="spacingAndGlyphs">$</tspan><tspan x="1338.70" textLength="17.702" lengthAdjust="spacingAndGlyphs">3</tspan><tspan x="1358.12" textLength="9.039" lengthAdjust="spacingAndGlyphs">.</tspan><tspan x="1368.66" textLength="17.947" lengthAdjust="spacingAndGlyphs">2</tspan><tspan x="1387.30" textLength="21.130" lengthAdjust="spacingAndGlyphs">T</tspan></text>
<text y="936.20"><tspan x="1479.60" textLength="15.520" lengthAdjust="spacingAndGlyphs">$</tspan><tspan x="1498.77" textLength="17.682" lengthAdjust="spacingAndGlyphs">3</tspan><tspan x="1518.17" textLength="9.028" lengthAdjust="spacingAndGlyphs">.</tspan><tspan x="1529.18" textLength="17.463" lengthAdjust="spacingAndGlyphs">5</tspan><tspan x="1547.33" textLength="21.106" lengthAdjust="spacingAndGlyphs">T</tspan></text>
<text y="936.20"><tspan x="1639.60" textLength="15.520" lengthAdjust="spacingAndGlyphs">$</tspan><tspan x="1658.77" textLength="17.682" lengthAdjust="spacingAndGlyphs">3</tspan><tspan x="1678.17" textLength="9.028" lengthAdjust="spacingAndGlyphs">.</tspan><tspan x="1688.64" textLength="18.680" lengthAdjust="spacingAndGlyphs">8</tspan><tspan x="1707.33" textLength="21.106" lengthAdjust="spacingAndGlyphs">T</tspan></text>
<text y="936.20"><tspan x="1815.00" textLength="15.332" lengthAdjust="spacingAndGlyphs">$</tspan><tspan x="1833.46" textLength="18.259" lengthAdjust="spacingAndGlyphs">4</tspan><tspan x="1851.87" textLength="20.850" lengthAdjust="spacingAndGlyphs">T</tspan></text>
<text y="936.20"><tspan x="1958.80" textLength="15.485" lengthAdjust="spacingAndGlyphs">$</tspan><tspan x="1977.44" textLength="18.440" lengthAdjust="spacingAndGlyphs">4</tspan><tspan x="1997.29" textLength="9.007" lengthAdjust="spacingAndGlyphs">.</tspan><tspan x="2007.79" textLength="17.885" lengthAdjust="spacingAndGlyphs">2</tspan><tspan x="2026.37" textLength="21.057" lengthAdjust="spacingAndGlyphs">T</tspan></text>
<text y="936.20"><tspan x="2118.85" textLength="15.476" lengthAdjust="spacingAndGlyphs">$</tspan><tspan x="2137.48" textLength="18.429" lengthAdjust="spacingAndGlyphs">4</tspan><tspan x="2157.31" textLength="9.001" lengthAdjust="spacingAndGlyphs">.</tspan><tspan x="2168.29" textLength="17.413" lengthAdjust="spacingAndGlyphs">5</tspan><tspan x="2186.38" textLength="21.045" lengthAdjust="spacingAndGlyphs">T</tspan></text>
<text y="936.20"><tspan x="2278.50" textLength="15.485" lengthAdjust="spacingAndGlyphs">$</tspan><tspan x="2297.14" textLength="18.440" lengthAdjust="spacingAndGlyphs">4</tspan><tspan x="2316.99" textLength="9.007" lengthAdjust="spacingAndGlyphs">.</tspan><tspan x="2327.43" textLength="18.637" lengthAdjust="spacingAndGlyphs">8</tspan><tspan x="2346.07" textLength="21.057" lengthAdjust="spacingAndGlyphs">T</tspan></text>
</g>
<!-- x label -->
<g font-size="33.4" fill="#000" stroke="#000" stroke-width="0.15">
<text y="993.00"><tspan x="1424.10" textLength="20.980" lengthAdjust="spacingAndGlyphs">T</tspan><tspan x="1439.35" textLength="18.508" lengthAdjust="spacingAndGlyphs">o</tspan><tspan x="1459.12" textLength="10.672" lengthAdjust="spacingAndGlyphs">t</tspan><tspan x="1471.50" textLength="15.686" lengthAdjust="spacingAndGlyphs">a</tspan><tspan x="1491.15" textLength="6.847" lengthAdjust="spacingAndGlyphs">l</tspan> <tspan x="1508.79" textLength="21.395" lengthAdjust="spacingAndGlyphs">A</tspan><tspan x="1531.11" textLength="19.077" lengthAdjust="spacingAndGlyphs">n</tspan><tspan x="1551.41" textLength="19.077" lengthAdjust="spacingAndGlyphs">n</tspan><tspan x="1571.69" textLength="18.965" lengthAdjust="spacingAndGlyphs">u</tspan><tspan x="1592.12" textLength="15.863" lengthAdjust="spacingAndGlyphs">a</tspan><tspan x="1611.99" textLength="6.928" lengthAdjust="spacingAndGlyphs">l</tspan> <tspan x="1629.69" textLength="8.965" lengthAdjust="spacingAndGlyphs">I</tspan><tspan x="1639.57" textLength="19.114" lengthAdjust="spacingAndGlyphs">n</tspan><tspan x="1659.64" textLength="19.186" lengthAdjust="spacingAndGlyphs">d</tspan><tspan x="1680.63" textLength="6.942" lengthAdjust="spacingAndGlyphs">i</tspan><tspan x="1689.20" textLength="12.791" lengthAdjust="spacingAndGlyphs">r</tspan><tspan x="1701.39" textLength="19.111" lengthAdjust="spacingAndGlyphs">e</tspan><tspan x="1721.23" textLength="16.010" lengthAdjust="spacingAndGlyphs">c</tspan><tspan x="1739.27" textLength="10.672" lengthAdjust="spacingAndGlyphs">t</tspan> <tspan x="1762.12" textLength="29.361" lengthAdjust="spacingAndGlyphs">W</tspan><tspan x="1791.23" textLength="15.684" lengthAdjust="spacingAndGlyphs">a</tspan><tspan x="1810.43" textLength="12.791" lengthAdjust="spacingAndGlyphs">r</tspan> <tspan x="1833.29" textLength="21.508" lengthAdjust="spacingAndGlyphs">C</tspan><tspan x="1855.88" textLength="18.868" lengthAdjust="spacingAndGlyphs">o</tspan><tspan x="1876.25" textLength="15.256" lengthAdjust="spacingAndGlyphs">s</tspan><tspan x="1892.97" textLength="10.672" lengthAdjust="spacingAndGlyphs">t</tspan><tspan x="1905.74" textLength="15.256" lengthAdjust="spacingAndGlyphs">s</tspan> <tspan x="1932.00" textLength="8.913" lengthAdjust="spacingAndGlyphs">(</tspan><tspan x="1943.77" textLength="22.618" lengthAdjust="spacingAndGlyphs">U</tspan><tspan x="1967.78" textLength="18.872" lengthAdjust="spacingAndGlyphs">S</tspan><tspan x="1987.70" textLength="23.802" lengthAdjust="spacingAndGlyphs">D</tspan><tspan x="2012.00" textLength="10.672" lengthAdjust="spacingAndGlyphs">/</tspan><tspan x="2023.65" textLength="17.099" lengthAdjust="spacingAndGlyphs">y</tspan><tspan x="2042.09" textLength="19.104" lengthAdjust="spacingAndGlyphs">e</tspan><tspan x="2062.20" textLength="15.887" lengthAdjust="spacingAndGlyphs">a</tspan><tspan x="2081.75" textLength="12.791" lengthAdjust="spacingAndGlyphs">r</tspan><tspan x="2096.70" textLength="8.913" lengthAdjust="spacingAndGlyphs">)</tspan></text>
</g>
<!-- watermark -->
<g font-size="30.5" fill="#323232">
<text y="1011.90"><tspan x="2199.96" textLength="27.260" lengthAdjust="spacingAndGlyphs">W</tspan><tspan x="2226.83" textLength="14.593" lengthAdjust="spacingAndGlyphs">a</tspan><tspan x="2244.66" textLength="11.680" lengthAdjust="spacingAndGlyphs">r</tspan><tspan x="2256.41" textLength="22.422" lengthAdjust="spacingAndGlyphs">O</tspan><tspan x="2279.66" textLength="17.702" lengthAdjust="spacingAndGlyphs">n</tspan><tspan x="2298.11" textLength="21.854" lengthAdjust="spacingAndGlyphs">D</tspan><tspan x="2320.99" textLength="6.639" lengthAdjust="spacingAndGlyphs">i</tspan><tspan x="2329.25" textLength="13.946" lengthAdjust="spacingAndGlyphs">s</tspan><tspan x="2343.92" textLength="17.533" lengthAdjust="spacingAndGlyphs">e</tspan><tspan x="2362.28" textLength="14.593" lengthAdjust="spacingAndGlyphs">a</tspan><tspan x="2380.43" textLength="13.946" lengthAdjust="spacingAndGlyphs">s</tspan><tspan x="2395.10" textLength="17.533" lengthAdjust="spacingAndGlyphs">e</tspan><tspan x="2413.03" textLength="8.740" lengthAdjust="spacingAndGlyphs">.</tspan><tspan x="2422.42" textLength="17.294" lengthAdjust="spacingAndGlyphs">o</tspan><tspan x="2440.56" textLength="11.680" lengthAdjust="spacingAndGlyphs">r</tspan><tspan x="2451.83" textLength="17.697" lengthAdjust="spacingAndGlyphs">g</tspan></text>
</g>
</svg>
</body>
</html>
